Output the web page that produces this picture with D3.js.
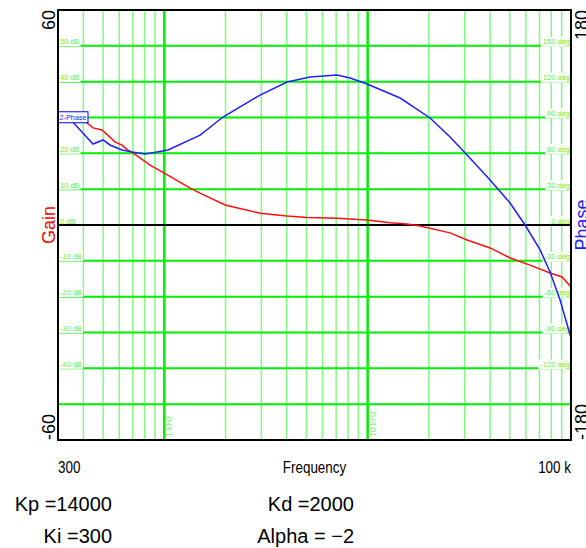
<!DOCTYPE html>
<html>
<head>
<meta charset="utf-8">
<script src="https://d3js.org/d3.v7.min.js"></script>
<style>
  body { margin: 0; background: #fff; }
  svg { display: block; font-family: "Liberation Sans", Arial, sans-serif; }
</style>
</head>
<body>
<svg width="586" height="548"></svg>
<script>
// frequency axis
var freqDomain = [300, 100000];
var majorFreqs = [1000, 10000];
var minorFreqs = [400, 500, 600, 700, 800, 900,
                  2000, 3000, 4000, 5000, 6000, 7000, 8000, 9000,
                  20000, 30000, 40000, 50000, 60000, 70000, 80000, 90000];
var majorFreqLabels = ["1 kHz", "10 kHz"];

// gain (dB) and phase (deg) grid
var gainTicks = [50, 40, 30, 20, 10, 0, -10, -20, -30, -40];
var phaseTicks = [150, 120, 90, 60, 30, 0, -30, -60, -90, -120];
var extraGainLines = [-50];
var hiddenGainLabel = 30; // sits under the curve label box

// curve 2: gain
var gainFreq = [300, 394, 446, 494, 572, 619, 663, 701, 851, 1000, 1340, 1500, 1990, 2960,
                4020, 5040, 7070, 9930, 12900, 15600, 18100, 25400, 30800, 40000, 50200,
                62900, 78900, 90400, 100000];
var gainDb = [29.6, 29.6, 27.1, 26.5, 23.2, 22.3, 20.9, 20.1, 16.7, 14.5, 10.3, 8.9, 5.6, 3.3,
              2.5, 2.1, 1.9, 1.4, 0.6, 0.3, -0.3, -2.2, -4.2, -6.4, -9.2,
              -11.2, -13.4, -14.5, -17.3];

// curve 2: phase
var phaseFreq = [300, 344, 446, 500, 540, 619, 694, 804, 921, 1043, 1500, 1944, 2956, 4015,
                 5207, 7070, 8196, 9930, 14440, 20280, 25430, 30820, 40000, 50160, 59460,
                 70480, 78900, 88370, 100000];
var phaseDeg = [93.8, 88.7, 67.8, 71.2, 67.0, 62.8, 61.1, 59.4, 61.1, 62.8, 75.3, 90.4, 108.8, 119.7,
                123.9, 125.6, 123.1, 118.0, 106.3, 89.6, 73.7, 58.6, 37.7, 18.4, 0,
                -20.9, -39.3, -62.8, -94.6];

var svg = d3.select("svg"),
    margin = {top: 10, right: 15, bottom: 108, left: 58},
    width = +svg.attr("width") - margin.left - margin.right,
    height = +svg.attr("height") - margin.top - margin.bottom;

var x = d3.scaleLog().domain(freqDomain).range([margin.left, margin.left + width]);
var yGain = d3.scaleLinear().domain([-60, 60]).range([margin.top + height, margin.top]);
var yPhase = d3.scaleLinear().domain([-180, 180]).range([margin.top + height, margin.top]);

var x0 = x.range()[0], x1 = x.range()[1],
    y0 = yGain.range()[1], y1 = yGain.range()[0];

var grid = svg.append("g");

// minor frequency lines
grid.selectAll(".minor")
  .data(minorFreqs)
  .enter().append("line")
    .attr("x1", function(d){ return x(d); })
    .attr("x2", function(d){ return x(d); })
    .attr("y1", y0).attr("y2", y1)
    .attr("stroke", "#84f884")
    .attr("stroke-width", 1.5);

// horizontal lines
grid.selectAll(".hline")
  .data(gainTicks.concat(extraGainLines).filter(function(d){ return d !== 0; }))
  .enter().append("line")
    .attr("x1", x0).attr("x2", x1)
    .attr("y1", function(d){ return yGain(d); })
    .attr("y2", function(d){ return yGain(d); })
    .attr("stroke", "#00ee00")
    .attr("stroke-width", 2);

// major frequency lines
grid.selectAll(".major")
  .data(majorFreqs)
  .enter().append("line")
    .attr("x1", function(d){ return x(d); })
    .attr("x2", function(d){ return x(d); })
    .attr("y1", y0).attr("y2", y1)
    .attr("stroke", "#00ee00")
    .attr("stroke-width", 2.5);

grid.selectAll(".flabel")
  .data(majorFreqs)
  .enter().append("text")
    .attr("transform", function(d){ return "translate(" + (x(d) + 8) + "," + (y1 - 3) + ") rotate(-90)"; })
    .attr("font-size", "8.5px")
    .attr("fill", "#7ef07e")
    .text(function(d, i){ return majorFreqLabels[i]; });

// gain labels, left
var gl = grid.selectAll(".glabel")
  .data(gainTicks.filter(function(d){ return d !== hiddenGainLabel; }))
  .enter().append("g")
    .attr("transform", function(d){ return "translate(0," + yGain(d) + ")"; });
gl.append("rect")
    .attr("x", x0 + 1).attr("y", -9)
    .attr("height", 9.5)
    .attr("fill", "#fff");
gl.append("text")
    .attr("x", x0 + 2).attr("y", -1.5)
    .attr("font-size", "7.5px")
    .attr("fill", "#66ee33")
    .text(function(d){ return d + " dB"; });
gl.select("rect").attr("width", function(){
  return this.parentNode.querySelector("text").getBBox().width + 2;
});

// phase labels, right
var pl = grid.selectAll(".plabel")
  .data(phaseTicks)
  .enter().append("g")
    .attr("transform", function(d){ return "translate(0," + yPhase(d) + ")"; });
pl.append("rect")
    .attr("y", -9)
    .attr("height", 10)
    .attr("fill", "#fff");
pl.append("text")
    .attr("x", x1 - 1).attr("y", -1.5)
    .attr("text-anchor", "end")
    .attr("font-size", "7.5px")
    .attr("fill", "#66ee33")
    .text(function(d){ return d + " deg"; });
pl.select("rect")
    .attr("x", function(){ return x1 - 3 - this.parentNode.querySelector("text").getBBox().width; })
    .attr("width", function(){ return this.parentNode.querySelector("text").getBBox().width + 3; });

// zero line
svg.append("line")
    .attr("x1", x0).attr("x2", x1)
    .attr("y1", yGain(0)).attr("y2", yGain(0))
    .attr("stroke", "#000")
    .attr("stroke-width", 2);

// curves
var gainLine = d3.line()
    .x(function(d, i){ return x(gainFreq[i]); })
    .y(function(d){ return yGain(d); });
var phaseLine = d3.line()
    .x(function(d, i){ return x(phaseFreq[i]); })
    .y(function(d){ return yPhase(d); });

svg.append("path")
    .attr("d", gainLine(gainDb))
    .attr("fill", "none")
    .attr("stroke", "#ff1010")
    .attr("stroke-width", 1.5);
svg.append("path")
    .attr("d", phaseLine(phaseDeg))
    .attr("fill", "none")
    .attr("stroke", "#2020ff")
    .attr("stroke-width", 1.5);

// curve label
svg.append("rect")
    .attr("x", x0).attr("y", yGain(31.6))
    .attr("width", 30).attr("height", 11)
    .attr("fill", "#fff")
    .attr("stroke", "#0000ff")
    .attr("stroke-width", 1);
svg.append("text")
    .attr("x", x0 + 1.5).attr("y", yGain(31.6) + 8.5)
    .attr("font-size", "7.3px")
    .attr("fill", "#2020ff")
    .text("2-Phase");

// frame
svg.append("rect")
    .attr("x", x0).attr("y", y0)
    .attr("width", x1 - x0).attr("height", y1 - y0)
    .attr("fill", "none")
    .attr("stroke", "#000")
    .attr("stroke-width", 2);

// axis end labels
var side = svg.append("g").attr("font-size", "18px");
side.append("text")
    .attr("transform", "translate(55," + y0 + ") rotate(-90)")
    .attr("text-anchor", "end")
    .text(yGain.domain()[1]);
side.append("text")
    .attr("transform", "translate(55," + y1 + ") rotate(-90)")
    .attr("text-anchor", "start")
    .text("-60");
side.append("text")
    .attr("transform", "translate(55," + yGain(0) + ") rotate(-90)")
    .attr("text-anchor", "middle")
    .attr("fill", "#ff0000")
    .text("Gain");
side.append("text")
    .attr("transform", "translate(588," + y0 + ") rotate(-90)")
    .attr("text-anchor", "end")
    .text(yPhase.domain()[1]);
side.append("text")
    .attr("transform", "translate(588," + y1 + ") rotate(-90)")
    .attr("text-anchor", "start")
    .text("-180");
side.append("text")
    .attr("transform", "translate(588," + yPhase(0) + ") rotate(-90)")
    .attr("text-anchor", "middle")
    .attr("fill", "#2020ff")
    .text("Phase");

// bottom axis text
var bx = svg.append("g").attr("font-size", "16px");
bx.append("text")
    .attr("transform", "translate(" + x0 + ",473) scale(0.84,1)")
    .text("300");
bx.append("text")
    .attr("transform", "translate(" + ((x0 + x1) / 2) + ",473) scale(0.84,1)")
    .attr("text-anchor", "middle")
    .text("Frequency");
bx.append("text")
    .attr("transform", "translate(" + x1 + ",473) scale(0.84,1)")
    .attr("text-anchor", "end")
    .text("100 k");

// parameters
var params = [
  {t: "Kp =14000", x: 112, y: 511},
  {t: "Ki =300", x: 112, y: 543},
  {t: "Kd =2000", x: 354, y: 511},
  {t: "Alpha = \u22122", x: 354, y: 543}
];
svg.append("g").attr("font-size", "20px")
  .selectAll("text")
  .data(params)
  .enter().append("text")
    .attr("x", function(d){ return d.x; })
    .attr("y", function(d){ return d.y; })
    .attr("text-anchor", "end")
    .text(function(d){ return d.t; });
</script>
</body>
</html>
